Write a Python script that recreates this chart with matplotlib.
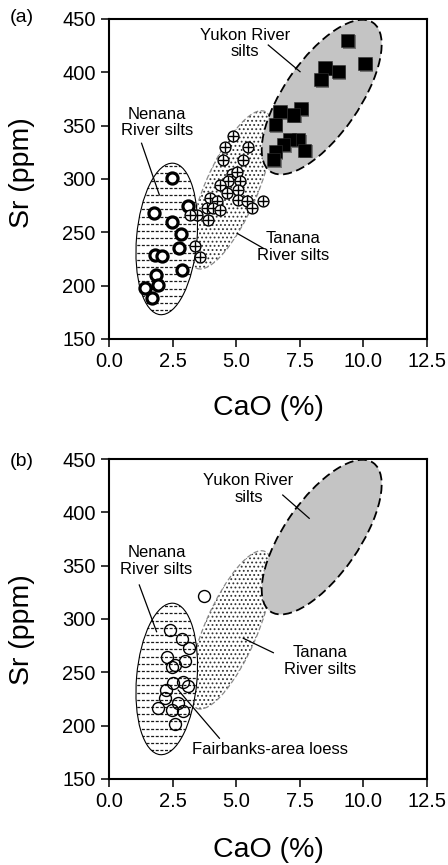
import numpy as np
import matplotlib
matplotlib.use('Agg')
import matplotlib.pyplot as plt
from matplotlib.patches import Ellipse
import matplotlib.patheffects as pe

plt.rcParams['font.family'] = ['Liberation Sans', 'DejaVu Sans']

# (a) sample data, CaO (%) vs Sr (ppm)
yukon_cao = [9.38, 10.06, 8.49, 9.01, 8.33, 7.55, 6.72, 7.25, 6.53, 7.44, 7.11, 6.85, 7.70, 6.53, 6.46]
yukon_sr = [430, 408, 404, 401, 393, 366, 363, 360, 351, 337, 337, 332, 327, 326, 318]

nenana_cao = [2.46, 1.78, 3.09, 2.46, 2.82, 2.76, 1.81, 2.07, 2.86, 1.85, 1.94, 1.42, 1.68]
nenana_sr = [301, 268, 275, 260, 248, 235, 229, 228, 215, 210, 201, 198, 188]

tanana_cao = [4.89, 4.56, 5.48, 4.49, 5.28, 4.82, 5.02, 4.69, 4.36, 5.15, 3.97, 4.63, 5.08,
              4.23, 5.08, 5.41, 5.61, 6.07, 3.84, 3.45, 4.10, 4.36, 3.90, 3.18, 3.38, 3.58]
tanana_sr = [340, 330, 330, 318, 318, 305, 307, 298, 294, 298, 282, 287, 290,
             279, 280, 279, 273, 279, 273, 266, 273, 271, 262, 266, 237, 227]

# (b) Fairbanks-area loess
loess_cao = [3.75, 2.40, 2.86, 3.14, 2.27, 2.99, 2.59, 2.46, 2.92, 2.53, 3.12, 2.24, 2.20,
             2.72, 1.94, 2.46, 2.90, 2.59]
loess_sr = [322, 290, 281, 273, 264, 261, 257, 255, 241, 240, 237, 233, 226,
            221, 217, 215, 214, 202]

# source-field ellipses: centre (CaO, Sr), width/height as axes fraction, angle
nen_ell = [(2.27, 243.8), 0.19, 0.475, -5]
tan_ell = [(4.79, 289.8), 0.165, 0.535, -23.6]
yuk_ell = [(8.36, 376.8), 0.236, 0.566, -34.9]

XMIN, XMAX, YMIN, YMAX = 0, 12.5, 150, 450

plt.rcParams['hatch.linewidth'] = 0.8


def to_axes(pt):
    return ((pt[0] - XMIN) / (XMAX - XMIN), (pt[1] - YMIN) / (YMAX - YMIN))


def draw_fields(ax):
    # Tanana - stippled, grey dashed outline
    c, w, h, a = tan_ell
    ax.add_patch(Ellipse(to_axes(c), w, h, angle=a, transform=ax.transAxes,
                         facecolor='white', edgecolor='0.2', hatch='....', lw=0, zorder=1))
    ax.add_patch(Ellipse(to_axes(c), w, h, angle=a, transform=ax.transAxes,
                         fill=False, edgecolor='0.55', ls=(0, (4, 2)), lw=0.9, zorder=1.2))
    # Yukon - grey, black dashed outline
    c, w, h, a = yuk_ell
    ax.add_patch(Ellipse(to_axes(c), w, h, angle=a, transform=ax.transAxes,
                         facecolor='#c4c4c4', edgecolor='black', ls=(0, (5, 2.5)), lw=1.3, zorder=1.5))
    # Nenana - dashed horizontal lines, thin solid outline
    c, w, h, a = nen_ell
    clip = Ellipse(to_axes(c), w, h, angle=a, transform=ax.transAxes,
                   facecolor='white', edgecolor='none', zorder=1.6)
    ax.add_patch(clip)
    for yy in np.arange(0.0, 1.0, 7.2 / 320):
        ln, = ax.plot([0, 1], [yy, yy], transform=ax.transAxes, color='0.1',
                      lw=0.9, dashes=(2.4, 1.3), zorder=1.7)
        ln.set_clip_path(clip)
    ax.add_patch(Ellipse(to_axes(c), w, h, angle=a, transform=ax.transAxes,
                         fill=False, edgecolor='black', lw=0.8, zorder=1.8))


def style_axes(ax, xlab_y, ylab_y):
    ax.set_xlim(XMIN, XMAX)
    ax.set_ylim(YMIN, YMAX)
    xt = np.arange(0, 12.6, 2.5)
    ax.set_xticks(xt)
    ax.set_xticklabels(['%.1f' % v for v in xt])
    ax.set_yticks(np.arange(150, 451, 50))
    ax.tick_params(direction='out', length=6, width=1.1, labelsize=14.5, pad=3.5)
    for s in ax.spines.values():
        s.set_linewidth(1.5)
    ax.set_xlabel('CaO (%)', fontsize=20.5)
    ax.set_ylabel('Sr (ppm)', fontsize=20.5)
    ax.xaxis.set_label_coords(0.5, xlab_y)
    ax.xaxis.label.set_va('center')
    ax.yaxis.set_label_coords(-0.274, ylab_y)
    ax.yaxis.label.set_va('center')


def label(ax, txt, pos, line):
    ax.text(pos[0], pos[1], txt, ha='center', va='center', fontsize=12,
            linespacing=1.15, zorder=6)
    ax.plot(line[0], line[1], color='black', lw=0.9, zorder=6)


fig = plt.figure(figsize=(4.48, 8.65), dpi=100)
axa = fig.add_axes([109 / 448, 1 - 339 / 865, 318 / 448, 320 / 865])
axb = fig.add_axes([109 / 448, 1 - 779 / 865, 318 / 448, 320 / 865])

# panel (a)
draw_fields(axa)
axa.scatter(yukon_cao, yukon_sr, marker='s', s=9.5 ** 2, c='black', edgecolors='0.2',
            lw=0.4, zorder=5,
            path_effects=[pe.SimplePatchShadow(offset=(1.2, -1.2), shadow_rgbFace='0.45', alpha=1),
                          pe.Normal()])
axa.plot(nenana_cao, nenana_sr, 'o', ms=8.0, mfc='white', mec='black', mew=2.3, zorder=5)
for x, y in zip(tanana_cao, tanana_sr):
    axa.plot(x, y, 'o', ms=7.8, mfc='white', mec='black', mew=1.0, zorder=5)
    axa.plot(x, y, '+', ms=7.8, mec='black', mew=1.0, zorder=5)

label(axa, 'Yukon River\nsilts', (5.35, 427), ([6.26, 7.51], [425.6, 400.6]))
label(axa, 'Nenana\nRiver silts', (1.89, 353), ([1.28, 1.98], [333.5, 285]))
label(axa, 'Tanana\nRiver silts', (7.25, 236), ([5.04, 6.07], [249, 235]))
style_axes(axa, -0.215, 0.519)

# panel (b)
draw_fields(axb)
axb.plot(loess_cao, loess_sr, 'o', ms=8.6, mfc='none', mec='black', mew=1.0, zorder=5)
label(axb, 'Yukon River\nsilts', (5.48, 421.6), ([6.83, 7.87], [416.2, 394.4]))
label(axb, 'Nenana\nRiver silts', (1.87, 354.4), ([1.19, 1.87], [331.9, 288.1]))
label(axb, 'Tanana\nRiver silts', (8.3, 261), ([5.28, 6.46], [281.9, 268.4]))
label(axb, 'Fairbanks-area loess', (6.33, 177.2), ([2.72, 4.34], [233.4, 188.2]))
style_axes(axb, -0.222, 0.466)

fig.text(21.7 / 448, 1 - 18 / 865, '(a)', ha='center', va='center', fontsize=14)
fig.text(21.7 / 448, 1 - 461.7 / 865, '(b)', ha='center', va='center', fontsize=14)

fig.savefig('out.png', dpi=100)
